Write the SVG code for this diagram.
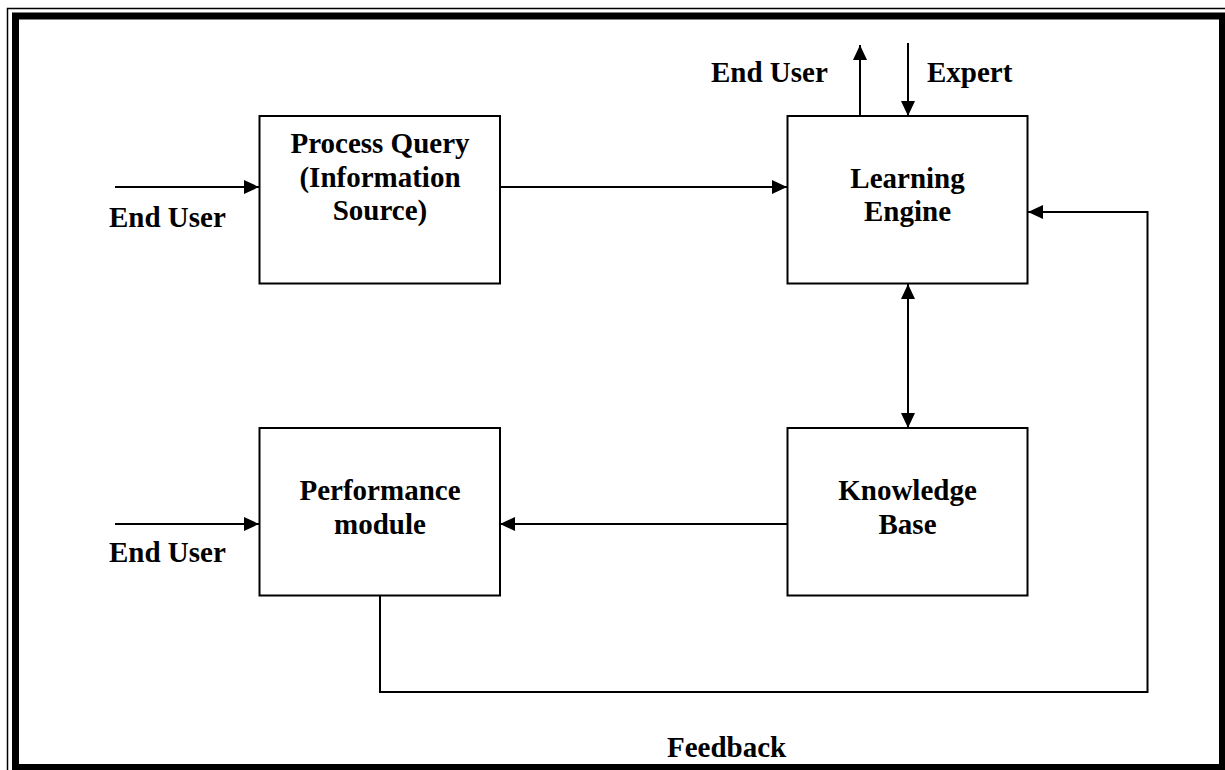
<svg xmlns="http://www.w3.org/2000/svg" width="1225" height="770" viewBox="0 0 1225 770">
  <style>
    .box { fill: #ffffff; stroke: #000000; stroke-width: 2; }
    .wire { fill: none; stroke: #000000; stroke-width: 2; }
    .lbl { font-family: "Liberation Serif", "Times New Roman", serif; font-weight: bold; font-size: 29px; fill: #000000; }
    .mid { text-anchor: middle; }
  </style>
  <defs>
    <marker id="head" viewBox="0 0 15 14" refX="15" refY="7" markerWidth="15" markerHeight="14" markerUnits="userSpaceOnUse" orient="auto-start-reverse">
      <path d="M0,0 L15,7 L0,14 Z" fill="#000000"/>
    </marker>
  </defs>

  <rect width="1225" height="770" fill="#ffffff"/>

  <!-- page frame: thin outer rule and thick inner rule -->
  <g id="frame">
    <rect x="7.5" y="8.5" width="1240" height="790" fill="none" stroke="#000000" stroke-width="1.5"/>
    <rect x="15.5" y="16" width="1207" height="751.5" fill="none" stroke="#000000" stroke-width="7"/>
  </g>

  <g id="connectors">
    <line class="wire" x1="115" y1="187" x2="259" y2="187" marker-end="url(#head)"/>
    <line class="wire" x1="500" y1="187" x2="787" y2="187" marker-end="url(#head)"/>
    <line class="wire" x1="860" y1="116" x2="860" y2="45" marker-end="url(#head)"/>
    <line class="wire" x1="908" y1="43" x2="908" y2="116" marker-end="url(#head)"/>
    <line class="wire" x1="908" y1="284" x2="908" y2="428" marker-start="url(#head)" marker-end="url(#head)"/>
    <line class="wire" x1="787" y1="524" x2="500" y2="524" marker-end="url(#head)"/>
    <line class="wire" x1="115" y1="524" x2="259" y2="524" marker-end="url(#head)"/>
    <polyline class="wire" points="380,596 380,692 1147.5,692 1147.5,212 1028,212" marker-end="url(#head)"/>
  </g>

  <g id="process-query">
    <rect class="box" x="259.5" y="116" width="240.5" height="167.5"/>
    <text class="lbl mid" x="380" y="153">Process Query</text>
    <text class="lbl mid" x="380" y="187">(Information</text>
    <text class="lbl mid" x="380" y="220">Source)</text>
  </g>

  <g id="learning-engine">
    <rect class="box" x="787.5" y="116" width="240" height="167.5"/>
    <text class="lbl mid" x="907.5" y="188">Learning</text>
    <text class="lbl mid" x="907.5" y="221">Engine</text>
  </g>

  <g id="performance-module">
    <rect class="box" x="259.5" y="428" width="240.5" height="167.5"/>
    <text class="lbl mid" x="380" y="500">Performance</text>
    <text class="lbl mid" x="380" y="534">module</text>
  </g>

  <g id="knowledge-base">
    <rect class="box" x="787.5" y="428" width="240" height="167.5"/>
    <text class="lbl mid" x="907.5" y="500">Knowledge</text>
    <text class="lbl mid" x="907.5" y="534">Base</text>
  </g>

  <g id="labels">
    <text class="lbl" x="109" y="227">End User</text>
    <text class="lbl" x="109" y="562">End User</text>
    <text class="lbl" x="711" y="82">End User</text>
    <text class="lbl" x="927" y="82">Expert</text>
    <text class="lbl" x="667" y="757">Feedback</text>
  </g>
</svg>
